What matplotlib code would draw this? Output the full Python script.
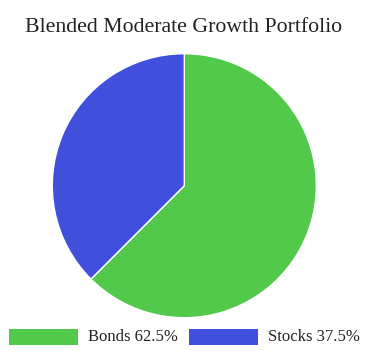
import matplotlib
matplotlib.use("Agg")
import matplotlib.pyplot as plt
from matplotlib.patches import Rectangle

title = "Blended Moderate Growth Portfolio"
labels = ["Bonds", "Stocks"]
values = [62.5, 37.5]
colors = ["#52c94a", "#4150dc"]

W, H = 367, 351
fig = plt.figure(figsize=(W / 100, H / 100), dpi=100)
fig.patch.set_facecolor("white")

cx, cy, r = 184.3, 185.7, 132
ax = fig.add_axes([(cx - r) / W, 1 - (cy + r) / H, 2 * r / W, 2 * r / H])
ax.pie(values, colors=colors, startangle=90, counterclock=False,
       wedgeprops=dict(edgecolor="white", linewidth=1), radius=1)
ax.set_xlim(-1, 1)
ax.set_ylim(-1, 1)
ax.set_aspect("equal")
ax.axis("off")

serif = ["Liberation Serif", "DejaVu Serif"]
fig.text(184 / W, 1 - 28 / H, title, ha="center", va="center",
         fontsize=15.7, family=serif, color="#222222")

# legend
rect_x = [9, 189]
text_x = [88, 268]
ly0, ly1 = 329, 345
for i, (lab, val) in enumerate(zip(labels, values)):
    fig.add_artist(Rectangle((rect_x[i] / W, 1 - ly1 / H), 69 / W, (ly1 - ly0) / H,
                             transform=fig.transFigure, facecolor=colors[i],
                             edgecolor="none"))
    fig.text(text_x[i] / W, 1 - 337 / H, f"{lab} {val}%", ha="left", va="center",
             fontsize=12, family=serif, color="#222222")

fig.savefig("out.png", dpi=100)
